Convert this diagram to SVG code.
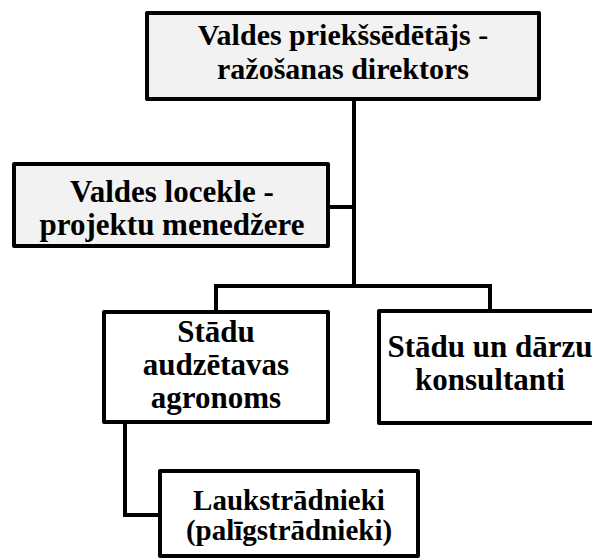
<svg xmlns="http://www.w3.org/2000/svg" width="592" height="560" viewBox="0 0 592 560">
<style>
.box{stroke:#000;stroke-width:4;stroke-linejoin:round}
.grey{fill:#f2f2f2}
.white{fill:#fff}
text{font-family:'Liberation Serif','Times New Roman',serif;font-weight:700;fill:#000;text-anchor:middle}
.conn{stroke:#000;stroke-width:4;fill:none;stroke-linejoin:miter}
</style>
<rect width="592" height="560" fill="#fff"/>
<g id="connectors">
<path class="conn" d="M354 99 V286"/>
<path class="conn" d="M328 207 H354"/>
<path class="conn" d="M216 312 V286 H490 V311"/>
<path class="conn" d="M125 422 V515 H160"/>
</g>
<g id="n1">
<rect class="box grey" x="147" y="13" width="392" height="86"/>
<text x="343" y="45" font-size="30">Valdes priekšsēdētājs -</text>
<text x="343" y="79" font-size="30">ražošanas direktors</text>
</g>
<g id="n2">
<rect class="box grey" x="14" y="164" width="314" height="82"/>
<text x="172" y="202" font-size="31">Valdes locekle -</text>
<text x="172" y="235" font-size="31">projektu menedžere</text>
</g>
<g id="n3">
<rect class="box white" x="104" y="312" width="224" height="110"/>
<text x="216" y="342" font-size="31">Stādu</text>
<text x="216" y="375" font-size="31">audzētavas</text>
<text x="216" y="408" font-size="31">agronoms</text>
</g>
<g id="n4">
<rect class="box white" x="379" y="311" width="240" height="112"/>
<text x="490" y="357" font-size="31">Stādu un dārzu</text>
<text x="490" y="390" font-size="31">konsultanti</text>
</g>
<g id="n5">
<rect class="box white" x="160" y="471" width="258" height="85"/>
<text x="289" y="510" font-size="29">Laukstrādnieki</text>
<text x="289" y="540" font-size="29">(palīgstrādnieki)</text>
</g>
</svg>
